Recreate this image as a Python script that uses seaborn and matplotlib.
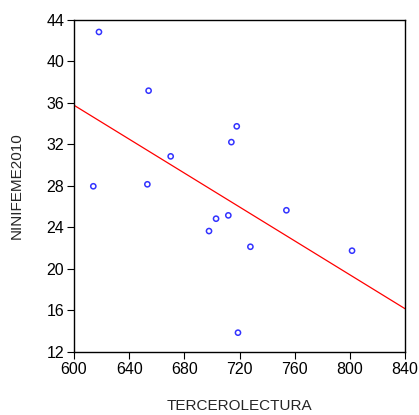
import matplotlib
matplotlib.use("Agg")
import matplotlib.pyplot as plt
import seaborn as sns
import pandas as pd

tercero_lectura = [618.1, 654.1, 614.0, 653.2, 670.1, 714.1, 718.0,
                   754.0, 703.0, 711.9, 697.9, 727.9, 801.6, 718.9]
ninifeme_2010 = [42.8, 37.15, 27.95, 28.14, 30.83, 32.2, 33.72,
                 25.64, 24.83, 25.15, 23.64, 22.13, 21.75, 13.86]
x_ticks = [600, 640, 680, 720, 760, 800, 840]
y_ticks = [12, 16, 20, 24, 28, 32, 36, 40, 44]

df = pd.DataFrame({"TERCEROLECTURA": tercero_lectura,
                   "NINIFEME2010": ninifeme_2010})

sns.set_style("ticks")
plt.rcParams["font.family"] = ["Liberation Sans", "DejaVu Sans"]

fig = plt.figure(figsize=(4.19, 4.15), dpi=100)
ax = fig.add_axes([0.1766, 0.1518, 0.79, 0.8012])
ax.set_xlim(600, 840)
ax.set_ylim(12, 44)

sns.regplot(data=df, x="TERCEROLECTURA", y="NINIFEME2010", ax=ax,
            ci=None, truncate=False,
            scatter_kws=dict(s=14, facecolors="none", edgecolors="#0000ff",
                             linewidths=1.1),
            line_kws=dict(color="#ff0000", linewidth=0.9))

ax.set_xlim(600, 840)
ax.set_ylim(12, 44)
ax.set_xticks(x_ticks)
ax.set_yticks(y_ticks)
ax.tick_params(axis="both", direction="out", length=5, width=0.8,
               labelsize=11.5, colors="#000000", pad=2,
               top=False, right=False)
for s in ax.spines.values():
    s.set_linewidth(1.0)
    s.set_color("#000000")
ax.set_xlabel("TERCEROLECTURA", fontsize=11, labelpad=16)
ax.set_ylabel("NINIFEME2010", fontsize=11, labelpad=16)

fig.savefig("out.png", dpi=100)
